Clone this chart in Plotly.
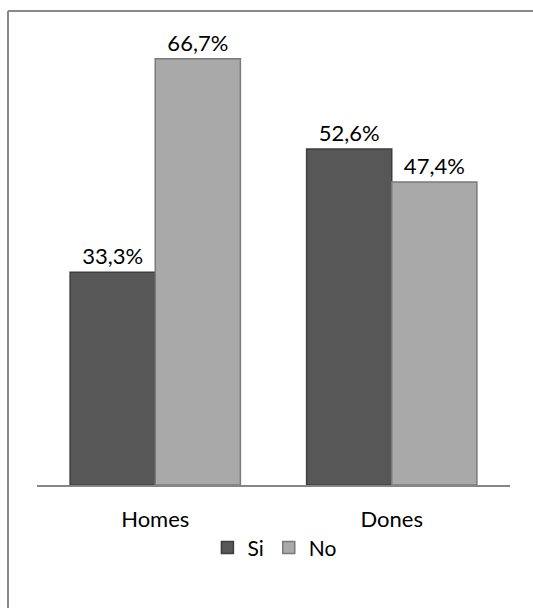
import plotly.graph_objects as go

categories = ["Homes", "Dones"]
si_values = [33.3, 52.6]
no_values = [66.7, 47.4]
series_names = ["Si", "No"]

W, H = 533, 608
L, R, T, B = 37, 23, 29, 123
pw, ph = W - L - R, H - T - B

def px_x(x):
    return (x - L) / pw

def px_y(y):
    return (H - B - y) / ph

fig = go.Figure()
fig.add_trace(go.Bar(
    name=series_names[0], x=categories, y=si_values,
    marker=dict(color="#575757", line=dict(color="#3e3e3e", width=1.5)),
    texttemplate="%{y:.1f}%", textposition="outside",
    textfont=dict(family="Lato", size=22, color="#000000"),
    cliponaxis=False,
))
fig.add_trace(go.Bar(
    name=series_names[1], x=categories, y=no_values,
    marker=dict(color="#a9a9a9", line=dict(color="#7a7a7a", width=1.5)),
    texttemplate="%{y:.1f}%", textposition="outside",
    textfont=dict(family="Lato", size=22, color="#000000"),
    cliponaxis=False,
))

fig.update_layout(
    width=W, height=H,
    margin=dict(l=L, r=R, t=T, b=B, pad=0),
    paper_bgcolor="white", plot_bgcolor="white",
    separators=",.",
    barmode="group", bargap=0.28, bargroupgap=0,
    font=dict(family="Lato", size=22, color="#000000"),
    showlegend=True,
    legend=dict(orientation="h", x=0.503, xanchor="center", y=-0.138, yanchor="middle",
                font=dict(family="Lato", size=21), itemwidth=30, traceorder="normal"),
    xaxis=dict(showline=True, linecolor="#868686", linewidth=2, ticks="",
               ticklabelstandoff=14,
               tickfont=dict(family="Lato", size=22), showgrid=False, zeroline=False),
    yaxis=dict(range=[0, ph / 6.39], visible=False, showgrid=False, zeroline=False),
    shapes=[
        dict(type="line", xref="paper", yref="paper", x0=px_x(8), x1=px_x(540), y0=px_y(11), y1=px_y(11),
             line=dict(color="#888888", width=2)),
        dict(type="line", xref="paper", yref="paper", x0=px_x(8), x1=px_x(8), y0=px_y(11), y1=px_y(620),
             line=dict(color="#888888", width=2)),
    ],
)

fig.write_html("out.html", config={"displayModeBar": False},
               post_script="document.body.style.margin='0px';")
